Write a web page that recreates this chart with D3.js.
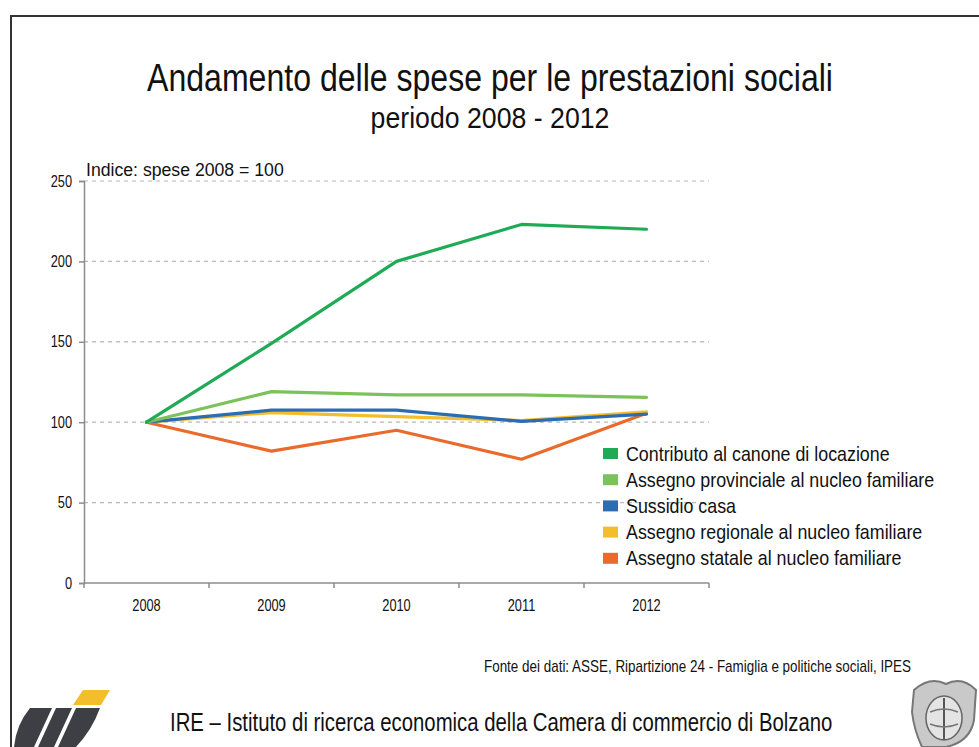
<!DOCTYPE html>
<html>
<head>
<meta charset="utf-8">
<script src="https://cdn.jsdelivr.net/npm/d3@7"></script>
<style>
  html, body { margin: 0; padding: 0; background: #fff; }
  svg { display: block; }
  text { font-family: "Liberation Sans", Arial, sans-serif; fill: #111; }
</style>
</head>
<body>
<script>
// Years on the horizontal axis
const years = ["2008", "2009", "2010", "2011", "2012"];

// Index values (2008 = 100) per benefit type
const contributoCanone   = [100, 149, 200, 223, 220];
const assegnoProvinciale = [100, 119, 117, 117, 115.5];
const sussidioCasa       = [100, 107.5, 107.5, 100.5, 105];
const assegnoRegionale   = [100, 106, 103.5, 101, 106.5];
const assegnoStatale     = [100, 82, 95, 77, 105.5];

const seriesNames = [
  "Contributo al canone di locazione",
  "Assegno provinciale al nucleo familiare",
  "Sussidio casa",
  "Assegno regionale al nucleo familiare",
  "Assegno statale al nucleo familiare"
];
const seriesColors = ["#1faa55", "#7cc25a", "#2b6cb3", "#f4bd2c", "#ea6a2c"];
const seriesValues = [contributoCanone, assegnoProvinciale, sussidioCasa, assegnoRegionale, assegnoStatale];

const yTicks = [0, 50, 100, 150, 200, 250];

const W = 979, H = 747;
const svg = d3.select("body").append("svg").attr("width", W).attr("height", H);

// Text squeezed horizontally to a narrow face; returns the text node
function narrowText(parent, x, y, str, size, sx, anchor) {
  const g = parent.append("g").attr("transform", `translate(${x},${y}) scale(${sx},1)`);
  return g.append("text").attr("x", 0).attr("y", 0)
    .attr("text-anchor", anchor || "start")
    .style("font-size", size + "px").text(str);
}

// Slide frame
svg.append("path")
  .attr("d", `M11,${H} V16 H${W}`)
  .attr("fill", "none").attr("stroke", "#333").attr("stroke-width", 2);

// Titles
narrowText(svg, 490, 91, "Andamento delle spese per le prestazioni sociali", 39, 0.822, "middle");
narrowText(svg, 490, 128, "periodo 2008 - 2012", 29, 0.92, "middle");

// Plot area
const plotL = 84, plotR = 709, plotT = 181, plotB = 583;
const x = d3.scaleBand().domain(years).range([plotL, plotR]);
const y = d3.scaleLinear().domain([0, 250]).range([plotB, plotT]);

// Dashed gridlines
svg.append("g").selectAll("line").data(yTicks.filter(d => d > 0)).join("line")
  .attr("x1", plotL).attr("x2", plotR)
  .attr("y1", d => y(d)).attr("y2", d => y(d))
  .attr("stroke", "#b8b8b8").attr("stroke-width", 1.2).attr("stroke-dasharray", "4,4");

// Y axis (line and ticks from d3, labels squeezed)
const yAxis = svg.append("g").attr("transform", `translate(${plotL},0)`)
  .call(d3.axisLeft(y).tickValues(yTicks).tickSize(5).tickFormat(""));
yAxis.select(".domain").attr("stroke", "#8c8c8c").attr("stroke-width", 1.5);
yAxis.selectAll(".tick line").attr("stroke", "#8c8c8c").attr("stroke-width", 1.5);
yTicks.forEach(v => narrowText(svg, plotL - 12, y(v) + 5.5, String(v), 16, 0.8, "end"));

// X axis with ticks at category boundaries
const xAxisG = svg.append("g").attr("transform", `translate(0,${plotB})`);
xAxisG.append("line").attr("x1", plotL).attr("x2", plotR).attr("y1", 0).attr("y2", 0)
  .attr("stroke", "#8c8c8c").attr("stroke-width", 1.5);
const bounds = years.map(d => x(d)).concat([x(years[years.length - 1]) + x.bandwidth()]);
xAxisG.selectAll(".bt").data(bounds).join("line").attr("class", "bt")
  .attr("x1", d => d).attr("x2", d => d).attr("y1", 0).attr("y2", 5)
  .attr("stroke", "#8c8c8c").attr("stroke-width", 1.5);
years.forEach(yr => narrowText(svg, x(yr) + x.bandwidth() / 2, plotB + 28, yr, 16, 0.8, "middle"));

// Axis caption
narrowText(svg, 86, 176, "Indice: spese 2008 = 100", 19, 0.93, "start");

// Lines (last series drawn first)
const line = d3.line()
  .x((d, i) => x(years[i]) + x.bandwidth() / 2)
  .y(d => y(d));
const order = [4, 3, 2, 1, 0];
svg.append("g").selectAll("path").data(order).join("path")
  .attr("d", i => line(seriesValues[i]))
  .attr("fill", "none").attr("stroke", i => seriesColors[i])
  .attr("stroke-width", 3.2).attr("stroke-linejoin", "round").attr("stroke-linecap", "round");

// Legend
const lg = svg.append("g").attr("transform", "translate(603,454)");
seriesNames.forEach((name, i) => {
  lg.append("rect").attr("x", 0).attr("y", i * 26.2 - 6).attr("width", 15).attr("height", 11)
    .attr("fill", seriesColors[i]);
  narrowText(lg, 23, i * 26.2 + 6.5, name, 19.5, 0.915, "start");
});

// Source note
narrowText(svg, 911, 672, "Fonte dei dati: ASSE, Ripartizione 24 - Famiglia e politiche sociali, IPES", 16, 0.84, "end");

// Footer
narrowText(svg, 170, 731, "IRE \u2013 Istituto di ricerca economica della Camera di commercio di Bolzano", 25, 0.814, "start");

// IRE logo
const logo = svg.append("g");
logo.append("path").attr("d", "M83,690 L110,690 L101,705 L73,705 Z").attr("fill", "#f2be2a");
logo.append("path").attr("d", "M30,708 L52,708 L34,747 L14,747 Q16,725 30,708 Z").attr("fill", "#3d3f44");
logo.append("path").attr("d", "M56,708 L72,708 L54,747 L38,747 Z").attr("fill", "#3d3f44");
logo.append("path").attr("d", "M76,708 L100,708 Q92,730 76,747 L58,747 Z").attr("fill", "#3d3f44");

// Coat of arms emblem
const crest = svg.append("g");
crest.append("path")
  .attr("d", "M914,690 Q930,676 946,684 Q962,676 976,690 L974,720 Q970,742 946,747 L922,747 Q914,730 912,712 Z")
  .attr("fill", "#c9c9c9").attr("stroke", "#777").attr("stroke-width", 2);
crest.append("ellipse").attr("cx", 944).attr("cy", 718).attr("rx", 18).attr("ry", 22)
  .attr("fill", "#e4e4e4").attr("stroke", "#666").attr("stroke-width", 1.5);
crest.append("line").attr("x1", 944).attr("x2", 944).attr("y1", 698).attr("y2", 740)
  .attr("stroke", "#555").attr("stroke-width", 2);
crest.append("path").attr("d", "M930,712 Q944,706 958,712 M930,724 Q944,730 958,724")
  .attr("fill", "none").attr("stroke", "#777").attr("stroke-width", 1.5);
</script>
</body>
</html>
